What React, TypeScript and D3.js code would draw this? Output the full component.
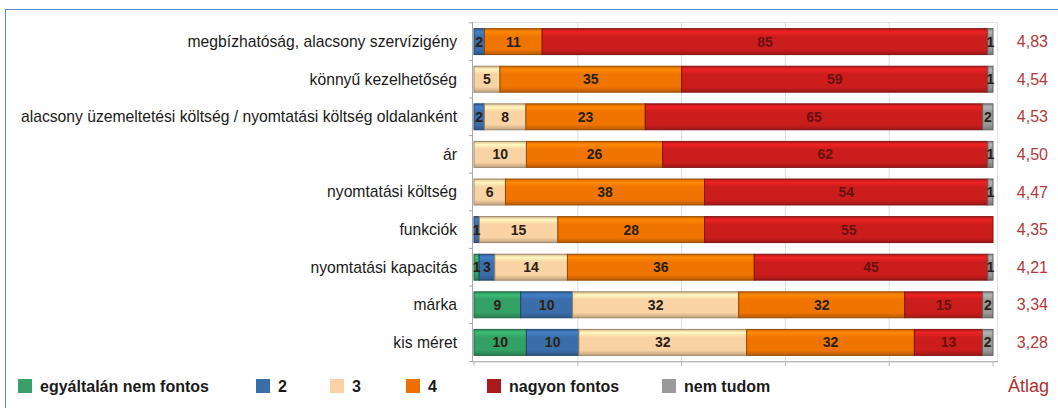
import React from "react";
import * as d3 from "d3";

const categories = [
  "megbízhatóság, alacsony szervízigény",
  "könnyű kezelhetőség",
  "alacsony üzemeltetési költség / nyomtatási költség oldalanként",
  "ár",
  "nyomtatási költség",
  "funkciók",
  "nyomtatási kapacitás",
  "márka",
  "kis méret",
];
const seriesNames = ["egyáltalán nem fontos", "2", "3", "4", "nagyon fontos", "nem tudom"];
const green = [0, 0, 0, 0, 0, 0, 1, 9, 10];
const blue = [2, 0, 2, 0, 0, 1, 3, 10, 10];
const peach = [0, 5, 8, 10, 6, 15, 14, 32, 32];
const orange = [11, 35, 23, 26, 38, 28, 36, 32, 32];
const red = [85, 59, 65, 62, 54, 55, 45, 15, 13];
const gray = [1, 1, 2, 1, 1, 0, 1, 2, 2];
const averages = ["4,83", "4,54", "4,53", "4,50", "4,47", "4,35", "4,21", "3,34", "3,28"];
const avgTitle = "Átlag";
const gridTicks = [0, 0.2, 0.4, 0.6, 0.8, 1];

const colors = ["#33a065", "#3a6eab", "#f9d3a3", "#ef7500", "#cc1d1d", "#9a9a9a"];
const legendColors = ["#37a169", "#3a6ea8", "#f9d3a3", "#ec6f00", "#aa1a1a", "#9a9a9a"];
const legendX = [18, 256, 330, 406, 487, 662];

const W = 1058;
const H = 408;
const plot = { x0: 474, x1: 993, y0: 22, y1: 362, right: 998 };
const font = "'Liberation Sans Narrow', 'Liberation Sans', Arial, sans-serif";

export default function App() {
  const series = [green, blue, peach, orange, red, gray];
  const rows = categories.map((c, i) => {
    const o: any = { cat: c };
    seriesNames.forEach((s, j) => (o[s] = series[j][i]));
    return o;
  });
  const stacked = d3.stack().keys(seriesNames).offset(d3.stackOffsetExpand)(rows);
  const x = d3.scaleLinear().domain([0, 1]).range([plot.x0, plot.x1]);
  const y = d3.scaleBand().domain(categories).range([plot.y0 + 1, plot.y1 - 1]).paddingInner(0.31).paddingOuter(0.15);
  const bw = y.bandwidth();
  const step = y.step();

  return (
    <svg width={W} height={H} style={{ position: "absolute", left: 0, top: 0, background: "#fff" }}>
      <defs>
        {colors.map((c, i) => {
          const base = d3.color(c)!;
          return (
            <linearGradient key={i} id={`g${i}`} x1="0" y1="0" x2="0" y2="1">
              <stop offset="0%" stopColor={base.darker(0.4).formatHex()} />
              <stop offset="12%" stopColor={base.brighter(0.45).formatHex()} />
              <stop offset="30%" stopColor={c} />
              <stop offset="80%" stopColor={c} />
              <stop offset="100%" stopColor={base.darker(0.7).formatHex()} />
            </linearGradient>
          );
        })}
      </defs>
      {/* outer frame */}
      <rect x={5.5} y={9.5} width={1100} height={500} fill="none" stroke="#5b8ac4" strokeWidth={1} />
      {/* plot area */}
      <rect x={plot.x0 - 1.5} y={plot.y0 + 0.5} width={plot.right - plot.x0 + 1} height={plot.y1 - plot.y0} fill="#fff" stroke="#e2e2e2" />
      {gridTicks.slice(1, -1).map((t) => (
        <line key={t} x1={x(t)} x2={x(t)} y1={plot.y0} y2={plot.y1} stroke="#dedede" />
      ))}
      {/* axes */}
      <line x1={plot.x0 - 1.5} x2={plot.x0 - 1.5} y1={plot.y0} y2={plot.y1} stroke="#a8a8a8" />
      {categories.map((c) => (
        <line key={c} x1={plot.x0 - 5} x2={plot.x0 - 1.5} y1={(y(c) as number) - (step - bw) / 2} y2={(y(c) as number) - (step - bw) / 2} stroke="#a8a8a8" />
      ))}
      <line x1={plot.x0 - 5} x2={plot.x0 - 1.5} y1={plot.y1 - 0.5} y2={plot.y1 - 0.5} stroke="#a8a8a8" />
      <line x1={plot.x0 - 1.5} x2={plot.right} y1={plot.y1 - 0.5} y2={plot.y1 - 0.5} stroke="#b8b8b8" />
      {gridTicks.map((t) => (
        <line key={t} x1={x(t)} x2={x(t)} y1={plot.y1} y2={plot.y1 + 4} stroke="#b8b8b8" />
      ))}
      {/* bars */}
      {stacked.map((s, j) => (
        <g key={s.key}>
          {s.map((d, i) => {
            const w = x(d[1]) - x(d[0]);
            if (w <= 0) return null;
            const yy = y(categories[i]) as number;
            return (
              <rect key={i} x={x(d[0])} y={yy} width={w} height={bw} fill={`url(#g${j})`} stroke={d3.color(colors[j])!.darker(1.3).formatHex()} strokeWidth={1} />
            );
          })}
        </g>
      ))}
      {/* segment labels */}
      {stacked.map((s, j) => (
        <g key={s.key}>
          {s.map((d, i) => {
            const v = series[j][i];
            if (!v) return null;
            const yy = (y(categories[i]) as number) + bw / 2;
            return (
              <text key={i} x={(x(d[0]) + x(d[1])) / 2} y={yy} dy="0.36em" textAnchor="middle" fontFamily="Arial, 'Liberation Sans', sans-serif" fontWeight="bold" fontSize={14} fill={j === 4 ? "#6a1010" : "#2a2016"}>
                {v}
              </text>
            );
          })}
        </g>
      ))}
      {/* category labels */}
      {categories.map((c) => (
        <text key={c} x={457} y={(y(c) as number) + bw / 2} dy="0.35em" textAnchor="end" fontFamily={font} fontSize={15.7} fill="#1a1a1a">
          {c}
        </text>
      ))}
      {/* averages */}
      {categories.map((c, i) => (
        <text key={c} x={1048} y={(y(c) as number) + bw / 2} dy="0.35em" textAnchor="end" fontFamily={font} fontSize={16} fill="#b03a3a">
          {averages[i]}
        </text>
      ))}
      {/* legend */}
      {seriesNames.map((n, i) => (
        <g key={n}>
          <rect x={legendX[i]} y={379} width={14} height={14} fill={legendColors[i]} />
          <text x={legendX[i] + 22} y={386} dy="0.36em" fontFamily={font} fontWeight="bold" fontSize={16} fill="#1a1a1a">
            {n}
          </text>
        </g>
      ))}
      <text x={1049} y={386} dy="0.36em" textAnchor="end" fontFamily={font} fontSize={18} fill="#b03030">
        {avgTitle}
      </text>
    </svg>
  );
}
